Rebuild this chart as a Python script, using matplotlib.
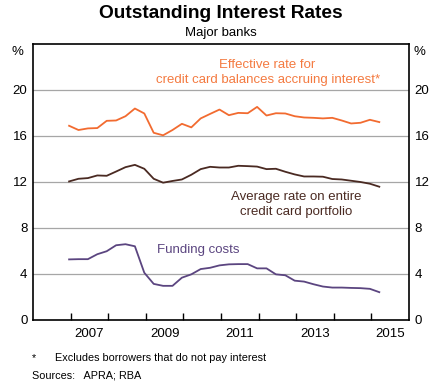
import numpy as np
import matplotlib
matplotlib.use("Agg")
import matplotlib.pyplot as plt

# quarterly, Dec 2006 to Mar 2015
start = 2006.96
effective = [16.89, 16.52, 16.66, 16.69, 17.32, 17.35, 17.72, 18.39, 17.96, 16.28,
             16.06, 16.52, 17.06, 16.75, 17.53, 17.92, 18.30, 17.81, 18.01, 17.98,
             18.53, 17.78, 17.98, 17.96, 17.72, 17.61, 17.58, 17.53, 17.58, 17.35,
             17.09, 17.15, 17.41, 17.21]
average = [12.05, 12.28, 12.34, 12.57, 12.54, 12.91, 13.29, 13.49, 13.15, 12.28,
           11.94, 12.09, 12.22, 12.63, 13.12, 13.32, 13.26, 13.26, 13.41, 13.38,
           13.34, 13.12, 13.15, 12.89, 12.66, 12.48, 12.48, 12.46, 12.26, 12.22,
           12.11, 12.00, 11.85, 11.59]
funding = [5.27, 5.29, 5.29, 5.72, 5.98, 6.50, 6.59, 6.41, 4.11, 3.14,
           2.97, 2.97, 3.68, 3.97, 4.43, 4.54, 4.75, 4.84, 4.86, 4.86,
           4.49, 4.49, 3.97, 3.89, 3.42, 3.34, 3.11, 2.91, 2.82, 2.82,
           2.79, 2.77, 2.71, 2.42]
dates = start + 0.25 * np.arange(len(effective))

yticks = [0, 4, 8, 12, 16, 20]
year_labels = [2007, 2009, 2011, 2013, 2015]

c_orange = '#F26B30'
c_brown = '#4A2A22'
c_purple = '#5B4580'

plt.rcParams['font.family'] = ['Liberation Sans', 'DejaVu Sans']

fig = plt.figure(figsize=(4.36, 3.88), dpi=100)
ax = fig.add_axes([33 / 436, 1 - 320 / 388, 376 / 436, 276 / 388])

ax.plot(dates, effective, color=c_orange, lw=1.3)
ax.plot(dates, average, color=c_brown, lw=1.3)
ax.plot(dates, funding, color=c_purple, lw=1.3)

ax.set_xlim(2006, 2016)
ax.set_ylim(0, 24)
for y in yticks[1:]:
    ax.axhline(y, color='#a6a6a6', lw=0.9, zorder=0)

ax.set_yticks(yticks)
ax.tick_params(axis='y', length=0, labelsize=9.5, pad=4,
               right=True, labelright=True)
ax.text(-0.025, 23.3, '%', transform=ax.get_yaxis_transform(), ha='right',
        va='center', fontsize=9.5)
ax.text(1.012, 23.3, '%', transform=ax.get_yaxis_transform(), ha='left',
        va='center', fontsize=9.5)

ax.set_xticks(range(2007, 2016))
ax.set_xticklabels([])
ax.tick_params(axis='x', which='major', direction='in', length=5, width=1)
ax.set_xticks([y + 0.5 for y in year_labels], minor=True)
ax.set_xticklabels([str(y) for y in year_labels], minor=True)
ax.tick_params(axis='x', which='minor', length=0, labelsize=9.5, pad=6)

for s in ax.spines.values():
    s.set_linewidth(1.2)

ax.text(2012.24, 21.5, 'Effective rate for\ncredit card balances accruing interest*',
        color='#F47A40', ha='center', va='center', fontsize=9.5, linespacing=1.3)
ax.text(2013.01, 10.04, 'Average rate on entire\ncredit card portfolio',
        color=c_brown, ha='center', va='center', fontsize=9.5, linespacing=1.3)
ax.text(2010.40, 6.09, 'Funding costs', color=c_purple, ha='center',
        va='center', fontsize=9.5)

fig.text(221 / 436, 1 - 13 / 388, 'Outstanding Interest Rates', ha='center',
         va='center', fontsize=13.8, fontweight='bold')
fig.text(221 / 436, 1 - 33 / 388, 'Major banks', ha='center', va='center',
         fontsize=9.5)

fig.text(32 / 436, 1 - 358 / 388, '*', ha='left', va='center', fontsize=7.8)
fig.text(55 / 436, 1 - 358 / 388, 'Excludes borrowers that do not pay interest',
         ha='left', va='center', fontsize=7.8)
fig.text(32 / 436, 1 - 375 / 388, 'Sources:   APRA; RBA', ha='left',
         va='center', fontsize=7.8)

fig.savefig('out.png', dpi=100)
